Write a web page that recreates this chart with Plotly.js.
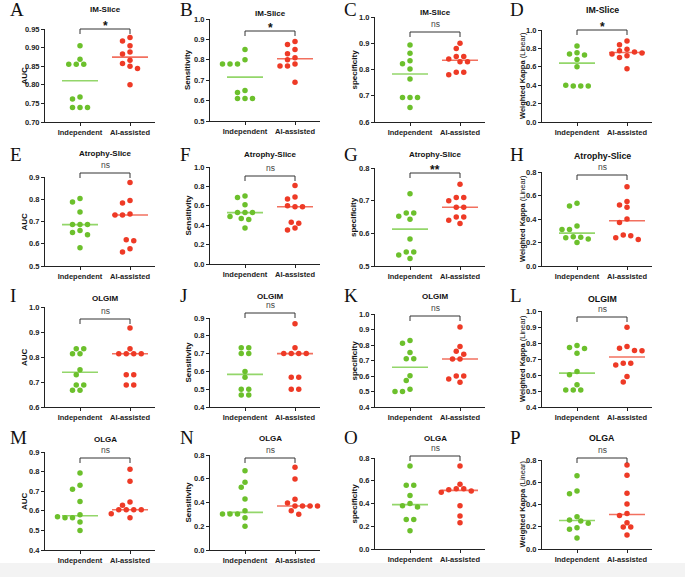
<!DOCTYPE html>
<html><head><meta charset="utf-8">
<script src="https://cdn.plot.ly/plotly-3.0.1.min.js"></script>
<style>html,body{margin:0;padding:0;background:#fff}#chart{width:685px;height:577px}</style>
</head><body><div id="chart"></div>
<script>
// ---------------- DATA ----------------
const panelLetters = ["A","B","C","D","E","F","G","H","I","J","K","L","M","N","O","P"];
const panelTitles = ["IM-Slice","IM-Slice","IM-Slice","IM-Slice",
  "Atrophy-Slice","Atrophy-Slice","Atrophy-Slice","Atrophy-Slice",
  "OLGIM","OLGIM","OLGIM","OLGIM","OLGA","OLGA","OLGA","OLGA"];
const metricTitles = ["AUC","Sensitivity","specificity","Weighted Kappa"];
const groups = ["Independent","AI-assisted"];
const significance = ["*","*","ns","*","ns","ns","**","ns","ns","ns","ns","ns","ns","ns","ns","ns"];

const indepA = [0.905,0.869,0.855,0.855,0.855,0.767,0.762,0.739,0.739,0.739];
const aiA    = [0.927,0.918,0.905,0.888,0.883,0.866,0.857,0.850,0.844,0.800];
const indepB = [0.85,0.80,0.78,0.78,0.78,0.65,0.64,0.61,0.61,0.61];
const aiB    = [0.89,0.875,0.85,0.83,0.81,0.80,0.78,0.77,0.77,0.69];
const indepC = [0.893,0.862,0.833,0.822,0.802,0.764,0.693,0.693,0.693,0.655];
const aiC    = [0.90,0.88,0.85,0.85,0.84,0.83,0.83,0.79,0.79,0.78];
const indepD = [0.825,0.753,0.738,0.727,0.68,0.60,0.40,0.39,0.39,0.39];
const aiD    = [0.88,0.84,0.79,0.775,0.76,0.75,0.74,0.72,0.70,0.58];
const indepE = [0.803,0.788,0.743,0.686,0.686,0.686,0.659,0.650,0.641,0.582];
const aiE    = [0.875,0.794,0.783,0.734,0.729,0.729,0.618,0.614,0.578,0.563];
const indepF = [0.70,0.685,0.61,0.53,0.53,0.53,0.49,0.47,0.46,0.37];
const aiF    = [0.81,0.69,0.67,0.60,0.59,0.59,0.43,0.42,0.37,0.35];
const indepG = [0.721,0.662,0.662,0.652,0.643,0.583,0.543,0.543,0.534,0.523];
const aiG    = [0.75,0.71,0.71,0.70,0.68,0.68,0.65,0.65,0.64,0.63];
const indepH = [0.534,0.511,0.34,0.31,0.31,0.25,0.245,0.24,0.23,0.20];
const aiH    = [0.674,0.549,0.52,0.50,0.40,0.371,0.263,0.257,0.24,0.226];
const indepI = [0.833,0.833,0.813,0.813,0.749,0.729,0.688,0.688,0.667,0.667];
const aiI    = [0.916,0.833,0.813,0.813,0.813,0.813,0.729,0.729,0.688,0.688];
const indepJ = [0.733,0.733,0.70,0.70,0.60,0.567,0.50,0.50,0.467,0.467];
const aiJ    = [0.867,0.733,0.70,0.70,0.70,0.70,0.567,0.567,0.50,0.50];
const indepK = [0.829,0.811,0.751,0.711,0.711,0.601,0.571,0.514,0.50,0.50];
const aiK    = [0.916,0.79,0.76,0.74,0.71,0.71,0.60,0.60,0.58,0.56];
const indepL = [0.784,0.772,0.765,0.736,0.622,0.601,0.539,0.506,0.506,0.506];
const aiL    = [0.898,0.778,0.767,0.753,0.751,0.674,0.674,0.662,0.591,0.556];
const indepM = [0.793,0.73,0.71,0.648,0.58,0.57,0.565,0.565,0.543,0.50];
const aiM    = [0.812,0.751,0.645,0.628,0.605,0.605,0.605,0.605,0.585,0.565];
const indepN = [0.668,0.57,0.528,0.43,0.33,0.303,0.303,0.303,0.272,0.20];
const aiN    = [0.696,0.598,0.427,0.396,0.37,0.37,0.37,0.37,0.331,0.30];
const indepO = [0.73,0.56,0.56,0.47,0.40,0.38,0.37,0.26,0.26,0.16];
const aiO    = [0.73,0.57,0.53,0.53,0.52,0.51,0.50,0.38,0.29,0.23];
const indepP = [0.659,0.521,0.497,0.291,0.261,0.252,0.231,0.192,0.177,0.099];
const aiP    = [0.755,0.662,0.50,0.404,0.32,0.30,0.237,0.198,0.198,0.126];

const axisMin  = [0.70,0.5,0.6,0, 0.5,0,0.5,0, 0.6,0.4,0.4,0.4, 0.4,0,0,0];
const axisMax  = [0.95,1.0,1.0,1.0, 0.9,1.0,0.8,0.8, 1.0,0.9,1.0,1.0, 0.9,0.8,0.8,0.8];
const axisStep = [0.05,0.1,0.1,0.2, 0.1,0.2,0.1,0.2, 0.1,0.1,0.1,0.1, 0.1,0.2,0.2,0.2];

const indepSeries = [indepA,indepB,indepC,indepD,indepE,indepF,indepG,indepH,indepI,indepJ,indepK,indepL,indepM,indepN,indepO,indepP];
const aiSeries = [aiA,aiB,aiC,aiD,aiE,aiF,aiG,aiH,aiI,aiJ,aiK,aiL,aiM,aiN,aiO,aiP];

// ---------------- LAYOUT GEOMETRY (pixels) ----------------
const W = 685, H = 577;
const colLeft = [45, 210, 375, 542];
const colWidth = 110;
const domTop = [29,19,17,30, 177,167,168,172, 307,318,314,311, 452,455,458,460];
const domBot = [122,121,122,122, 266,264,266,266, 407,407,407,407, 550,550,549,549];
const bracketPx = [29,31,32,30, 173,176,173,175, 319,313,316,317, 458,458,456,458];
const titlePx = [10,13,12,10, 154,155,155,156, 298,296,296,299, 439,438,438,438];
const letterRowPx = [10,155,295,437];
const letterColPx = [8,178,342,508];
const yTitleColPx = [24,188,354,522];
const xRange = [-0.7, 1.5];

const GREEN = '#6cc02c', RED = '#ee3a26';
const GREEN_LINE = '#93d66a', RED_LINE = '#f2705f';
const FONT = 'Liberation Sans, Arial, sans-serif';

function fx(px){ return px / W; }
function fy(px){ return 1 - px / H; }
function median(arr){
  const s = arr.slice().sort((a,b)=>a-b); const n = s.length;
  return n % 2 ? s[(n-1)/2] : (s[n/2-1] + s[n/2]) / 2;
}
// beeswarm: identical values form centred rows; rows are shifted sideways to avoid overlaps
function swarm(vals, center, pxPerUnit, unitPx){
  const step = 7.5, minD = 5.6;
  const idx = vals.map((v,i)=>i).sort((a,b)=>vals[b]-vals[a]);
  const rows = []; let row = [idx[0]];
  for (let k=1;k<idx.length;k++){
    if ((vals[row[0]] - vals[idx[k]]) * pxPerUnit < 1.0) row.push(idx[k]);
    else { rows.push(row); row = [idx[k]]; }
  }
  rows.push(row);
  const placed = []; const xs = new Array(vals.length);
  const cands = [0]; for (let k=1;k<12;k++){ cands.push(-k*step/2, k*step/2); }
  rows.forEach(r => {
    const base = r.map((p,j) => (j - (r.length-1)/2) * step);
    for (const sh of cands){
      let ok = true;
      for (let j=0;j<r.length && ok;j++){
        const px = base[j] + sh, py = vals[r[j]] * pxPerUnit;
        for (const q of placed){ if (Math.hypot(px-q[0], py-q[1]) < minD){ ok=false; break; } }
      }
      if (ok){
        r.forEach((p,j)=>{ const px = base[j]+sh; placed.push([px, vals[p]*pxPerUnit]); xs[p] = center + px/unitPx; });
        break;
      }
    }
  });
  return xs;
}

const traces = [], annotations = [], shapes = [];
const layout = {
  width: W, height: H, margin: {l:0,r:0,t:0,b:0},
  paper_bgcolor: '#fff', plot_bgcolor: 'rgba(0,0,0,0)', showlegend: false,
  font: {family: FONT, color: '#222'}
};

for (let i=0;i<16;i++){
  const col = i % 4, rowI = Math.floor(i/4);
  const xn = i===0 ? 'xaxis' : 'xaxis'+(i+1);
  const yn = i===0 ? 'yaxis' : 'yaxis'+(i+1);
  const xr = i===0 ? 'x' : 'x'+(i+1);
  const yr = i===0 ? 'y' : 'y'+(i+1);
  const x0 = colLeft[col], x1 = colLeft[col] + colWidth;
  const unitPx = colWidth / (xRange[1]-xRange[0]);
  const ticks = []; const dec = axisStep[i] < 0.1 ? 2 : 1;
  for (let v = axisMin[i]; v <= axisMax[i] + 1e-9; v += axisStep[i]) ticks.push(+v.toFixed(3));
  layout[xn] = {
    domain: [fx(x0), fx(x1)], range: xRange, anchor: yr,
    tickvals: [0,1], ticktext: groups, showline: true, linecolor: '#222', linewidth: 1,
    ticks: 'outside', ticklen: 3, tickcolor: '#222', showgrid: false, zeroline: false,
    tickfont: {family: FONT, size: 7.5, color: '#222', weight: 'bold'}, fixedrange: true
  };
  layout[yn] = {
    domain: [fy(domBot[i]), fy(domTop[i])], range: [axisMin[i], axisMax[i]], anchor: xr,
    tickvals: ticks, ticktext: ticks.map(v=>v.toFixed(dec)), showline: true, linecolor: '#222', linewidth: 1,
    ticks: 'outside', ticklen: 3, tickcolor: '#222', showgrid: false, zeroline: false,
    tickfont: {family: FONT, size: 7.5, color: '#222', weight: 'bold'}, fixedrange: true
  };
  const pxPerUnit = (domBot[i]-domTop[i]) / (axisMax[i]-axisMin[i]);
  [[indepSeries[i], 0, GREEN, GREEN_LINE],[aiSeries[i], 1, RED, RED_LINE]].forEach(([vals, c, mc, lc]) => {
    const m = median(vals);
    traces.push({type:'scatter', mode:'lines', x:[c-0.36, c+0.36], y:[m,m], xaxis:xr, yaxis:yr,
      line:{color:lc, width:1.6}, hoverinfo:'skip', cliponaxis:false});
    traces.push({type:'scatter', mode:'markers', x: swarm(vals, c, pxPerUnit, unitPx), y: vals,
      xaxis:xr, yaxis:yr, marker:{color:mc, size:5.5}, cliponaxis:false, hoverinfo:'y'});
  });
  // bracket
  const cx0 = x0 + (0 - xRange[0]) * unitPx, cx1 = x0 + (1 - xRange[0]) * unitPx;
  const by = bracketPx[i];
  shapes.push({type:'path', xref:'paper', yref:'paper',
    path: `M ${fx(cx0)},${fy(by+5)} L ${fx(cx0)},${fy(by)} L ${fx(cx1)},${fy(by)} L ${fx(cx1)},${fy(by+5)}`,
    line:{color:'#333', width:1}});
  const star = significance[i] !== 'ns';
  annotations.push({xref:'paper', yref:'paper', x: fx((cx0+cx1)/2), y: fy(star ? by-3 : by-8),
    text: star ? '<b>'+significance[i]+'</b>' : significance[i], showarrow:false,
    xanchor:'center', yanchor:'middle',
    font:{family:FONT, size: star ? 12 : 8.5, color: star ? '#111' : '#444'}});
  // panel title
  annotations.push({xref:'paper', yref:'paper', x: fx((cx0+cx1)/2), y: fy(titlePx[i]),
    text: '<b>'+panelTitles[i]+'</b>', showarrow:false, xanchor:'center', yanchor:'middle',
    font:{family:FONT, size: col===3 ? 8.8 : 8, color:'#111'}});
  // y title
  const yt = col===3 ? '<b>'+metricTitles[col]+'</b> (Linear)' : '<b>'+metricTitles[col]+'</b>';
  annotations.push({xref:'paper', yref:'paper', x: fx(yTitleColPx[col]), y: fy((domTop[i]+domBot[i])/2),
    text: yt, textangle: -90, showarrow:false, xanchor:'center', yanchor:'middle',
    font:{family: FONT, size: col===3 ? 7.5 : 8, color:'#111'}});
  // panel letter
  annotations.push({xref:'paper', yref:'paper', x: fx(letterColPx[col]), y: fy(letterRowPx[rowI]),
    text: panelLetters[i], showarrow:false, xanchor:'left', yanchor:'middle',
    font:{family:'Liberation Serif, Times New Roman, serif', size: 19, color:'#111'}});
}
// light band at bottom of the figure
shapes.push({type:'rect', xref:'paper', yref:'paper', x0:0, x1:1, y0:0, y1:fy(563),
  fillcolor:'#f3f3f3', line:{width:0}, layer:'below'});
layout.annotations = annotations;
layout.shapes = shapes;
Plotly.newPlot('chart', traces, layout, {staticPlot:true, displayModeBar:false});
</script></body></html>
